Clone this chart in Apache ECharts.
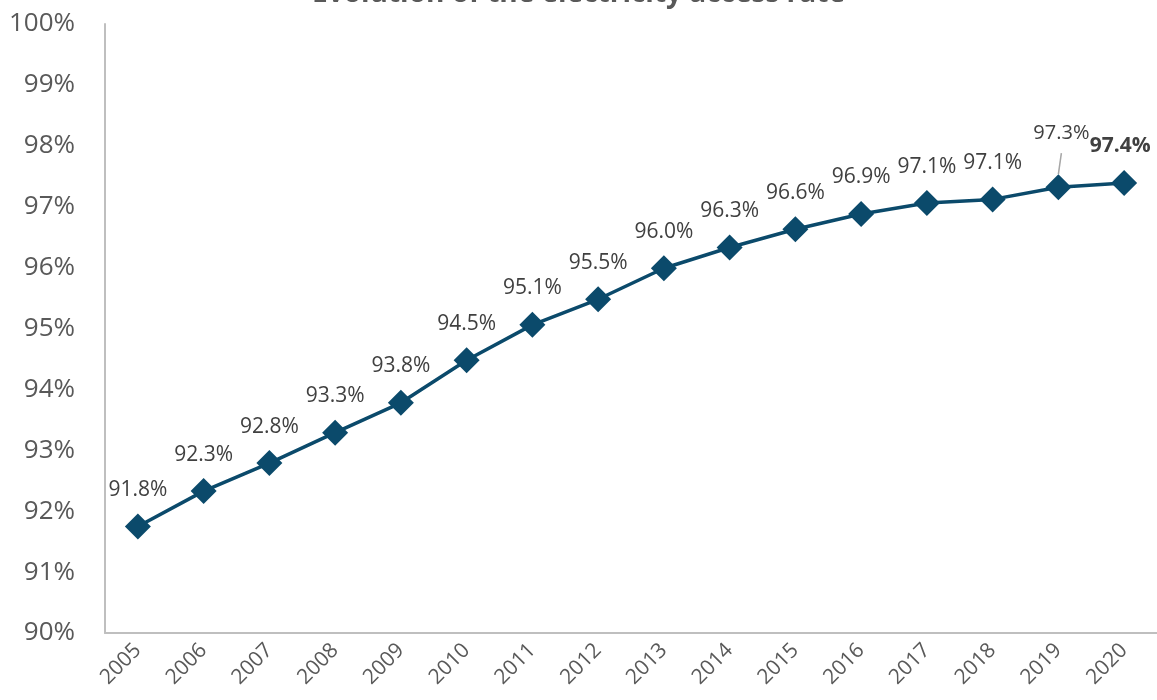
<!DOCTYPE html>
<html><head><meta charset="utf-8">
<script src="https://cdn.jsdelivr.net/npm/echarts@6/dist/echarts.min.js"></script>
<style>html,body{margin:0;padding:0;background:#fff}#c{width:1157px;height:700px}</style>
</head><body><div id="c"></div>
<script>
const titleText = 'Evolution of the electricity access rate';
const years = ['2005','2006','2007','2008','2009','2010','2011','2012','2013','2014','2015','2016','2017','2018','2019','2020'];
const accessRate = [91.75, 92.33, 92.79, 93.29, 93.78, 94.48, 95.06, 95.48, 95.99, 96.33, 96.63, 96.88, 97.06, 97.12, 97.32, 97.39];
const yMin = 90, yMax = 100, yStep = 1;

const FONT = '"Open Sans", "Noto Sans", sans-serif';
const chart = echarts.init(document.getElementById('c'));
const data = accessRate.map((v, i) => {
  const item = { value: v };
  if (i === years.length - 1) {
    item.label = { fontWeight: 'bold', offset: [-4, 0] };
  } else if (i === years.length - 2) {
    item.label = { fontSize: 20, offset: [3, -18] };
    item.labelLine = { show: true };
  }
  return item;
});
chart.setOption({
  animation: false,
  title: {
    text: titleText, left: 'center', top: -25,
    textStyle: { fontFamily: FONT, fontSize: 28, fontWeight: 'bold', color: '#595959' }
  },
  grid: { left: 105, right: -2, top: 24, bottom: 67, containLabel: false },
  xAxis: {
    type: 'category', data: years, boundaryGap: true,
    axisLine: { lineStyle: { color: '#bfbfbf', width: 2 } },
    axisTick: { show: false },
    axisLabel: { rotate: 45, margin: 14, fontFamily: FONT, fontSize: 21, color: '#595959' }
  },
  yAxis: {
    type: 'value', min: yMin, max: yMax, interval: yStep,
    axisLine: { show: true, lineStyle: { color: '#bfbfbf', width: 2 } },
    axisTick: { show: false },
    splitLine: { show: false },
    axisLabel: { margin: 30, fontFamily: FONT, fontSize: 26, color: '#595959', formatter: v => v + '%' }
  },
  series: [{
    type: 'line', data: data,
    symbol: 'diamond', symbolSize: 26,
    lineStyle: { color: '#0b4a6b', width: 3.5 },
    itemStyle: { color: '#0b4a6b' },
    label: {
      show: true, position: 'top', distance: 13,
      fontFamily: FONT, fontSize: 21, color: '#404040',
      formatter: p => p.value.toFixed(1) + '%'
    },
    labelLine: { show: false, lineStyle: { color: '#a6a6a6', width: 1.5 } }
  }]
});
</script></body></html>
